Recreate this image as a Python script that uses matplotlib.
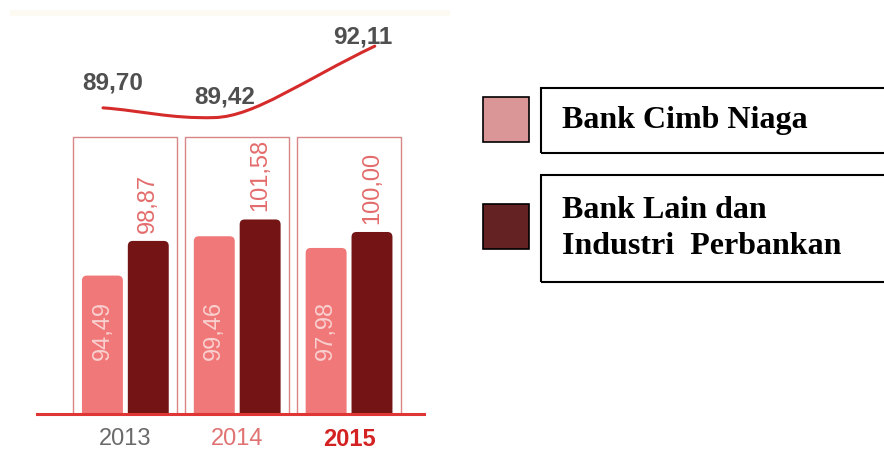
import numpy as np
import matplotlib
matplotlib.use("Agg")
import matplotlib.pyplot as plt
from matplotlib.patches import Rectangle, PathPatch, FancyBboxPatch
from matplotlib.path import Path

# data
years = ["2013", "2014", "2015"]
cimb_niaga = [94.49, 99.46, 97.98]
bank_lain = [98.87, 101.58, 100.00]
line_values = [89.70, 89.42, 92.11]
legend_labels = ["Bank Cimb Niaga", "Bank Lain dan\nIndustri  Perbankan"]

LIGHT = "#F07878"
DARK = "#751414"
RED = "#E03535"


def fmt(v):
    return f"{v:.2f}".replace(".", ",")


def round_tops(ax, bars, r=0.045, aspect=14.0):
    # swap plain bars for ones with rounded corners (bottom ones fall below the axis)
    for b in bars:
        x0, y0 = b.get_xy()
        fb = FancyBboxPatch((x0, y0), b.get_width(), b.get_height(),
                            boxstyle=f"round,pad=0,rounding_size={r}",
                            mutation_aspect=aspect, fc=b.get_facecolor(), lw=0,
                            zorder=b.get_zorder())
        b.remove()
        ax.add_patch(fb)


plt.rcParams["font.family"] = ["Liberation Sans", "DejaVu Sans"]

W, H = 884, 470
fig = plt.figure(figsize=(W / 100, H / 100), dpi=100)

# faint band at the top
fig.add_artist(Rectangle((10 / W, 1 - 16 / H), 440 / W, 6 / H, transform=fig.transFigure,
                         color="#FCFAF2", lw=0))

# bar panel
ax = fig.add_axes([37 / W, 1 - 414 / H, 387 / W, 277 / H])
x = np.arange(len(years))
off, bw = 0.205, 0.366
ax.set_xlim(-0.79, 2.67)
ax.set_ylim(77, 112)

xt = ax.get_xaxis_transform()
for xi in x:
    ax.add_patch(Rectangle((xi - 0.465, 0), 0.93, 1, transform=xt, fill=False,
                           ec="#D98585", lw=1.0, clip_on=False))

b1 = ax.bar(x - off, cimb_niaga, width=bw, color=LIGHT, zorder=2)
b2 = ax.bar(x + off, bank_lain, width=bw, color=DARK, zorder=2)
round_tops(ax, b1)
round_tops(ax, b2)

for xi, v in zip(x, cimb_niaga):
    ax.text(xi - off, 0.30, fmt(v), transform=xt, rotation=90, ha="center", va="center",
            fontsize=17, color="#FAD0D0", zorder=3)
for xi, v in zip(x, bank_lain):
    ax.annotate(fmt(v), (xi + off, v), xytext=(0, 6), textcoords="offset points",
                rotation=90, ha="center", va="bottom", fontsize=17, color="#E36B6B")

for s in ["top", "left", "right"]:
    ax.spines[s].set_visible(False)
ax.spines["bottom"].set_color(RED)
ax.spines["bottom"].set_linewidth(2.2)
ax.set_yticks([])
ax.set_xticks(x, years)
ax.tick_params(axis="x", length=0, pad=10, labelsize=17)
year_colors = ["#6A6A6A", "#E07272", "#D42222"]
for lbl, c in zip(ax.get_xticklabels(), year_colors):
    lbl.set_color(c)
ax.get_xticklabels()[-1].set_fontweight("bold")

# line panel
ax2 = fig.add_axes([37 / W, 1 - 130 / H, 387 / W, 110 / H])
ax2.set_xlim(ax.get_xlim())
ax2.set_ylim(88.835, 93.13)
ax2.axis("off")

lx = x + np.array([-0.20, -0.20, 0.23])
(x0, x1, x2), (y0, y1, y2) = lx, line_values
d1, d2 = x1 - x0, x2 - x1
verts = [(x0, y0),
         (x0 + 0.35 * d1, y0 + 0.4 * (y1 - y0)), (x1 - 0.4 * d1, y1 - 0.15), (x1, y1 - 0.1),
         (x1 + 0.25 * d2, y1 - 0.05), (x1 + 0.55 * d2, y1 + 0.5 * (y2 - y1)), (x2, y2)]
codes = [Path.MOVETO] + [Path.CURVE4] * 6
ax2.add_patch(PathPatch(Path(verts, codes), fill=False, ec="#D62B2B", lw=2.2,
                        capstyle="round", clip_on=False))

label_offsets = [(7, 18), (7, 13), (-9, 6.5)]
for xi, v, (dx, dy) in zip(lx, line_values, label_offsets):
    ax2.annotate(fmt(v), (xi, v), xytext=(dx, dy), textcoords="offset points",
                 ha="center", va="center", fontsize=17.5, fontweight="bold",
                 color="#4F4F4F", annotation_clip=False)

# legend
sq_colors = ["#DA9696", "#652222"]
sq_tops = [97, 204]
box_spans = [(88, 153), (175, 282)]
for c, top in zip(sq_colors, sq_tops):
    fig.add_artist(Rectangle((483 / W, 1 - (top + 45) / H), 46 / W, 45 / H,
                             transform=fig.transFigure, fc=c, ec="black", lw=1.2))
for (top, bot), lbl in zip(box_spans, legend_labels):
    fig.add_artist(Rectangle((541 / W, 1 - bot / H), 360 / W, (bot - top) / H,
                             transform=fig.transFigure, fill=False, ec="black", lw=1.5))
    fig.text(562 / W, 1 - (top + bot) / 2 / H, lbl, ha="left", va="center",
             family=["Liberation Serif", "DejaVu Serif"], fontweight="bold",
             fontsize=23, linespacing=1.32)

fig.savefig("out.png", dpi=100)
